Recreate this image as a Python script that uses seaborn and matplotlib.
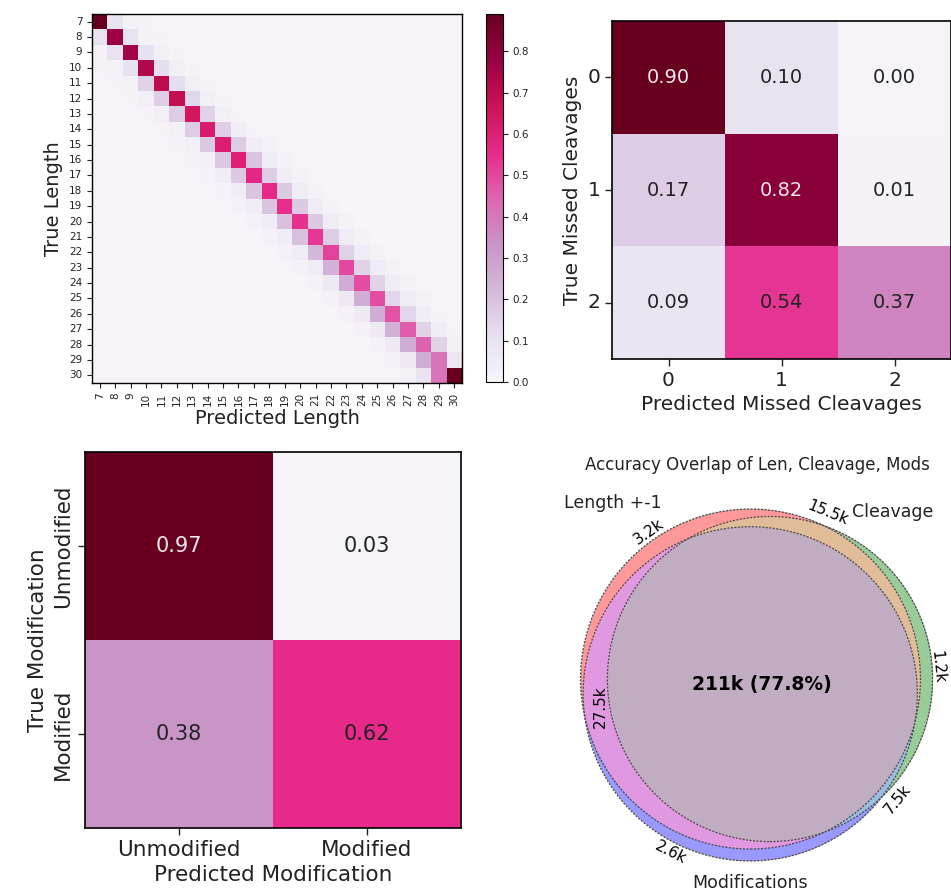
import numpy as np
import pandas as pd
import matplotlib
matplotlib.use("Agg")
import matplotlib.pyplot as plt
import seaborn as sns
from matplotlib.patches import Circle

# ---------------- peptide length confusion matrix (stored as diagonal bands) ----------------
lengths = list(range(7, 31))
len_diag = [0.89, 0.77, 0.76, 0.73, 0.70, 0.69, 0.65, 0.62, 0.61, 0.60, 0.57, 0.56,
            0.55, 0.54, 0.53, 0.51, 0.50, 0.49, 0.49, 0.48, 0.46, 0.45, 0.41, 0.89]
# true length = predicted + 1 (rows 8..30)
len_below1 = [0.10, 0.10, 0.11, 0.15, 0.16, 0.17, 0.17, 0.18, 0.18, 0.18, 0.19, 0.19,
              0.20, 0.20, 0.22, 0.24, 0.26, 0.26, 0.26, 0.25, 0.26, 0.26, 0.41]
# true length = predicted - 1 (rows 7..29)
len_above1 = [0.10, 0.10, 0.11, 0.12, 0.12, 0.14, 0.15, 0.16, 0.17, 0.19, 0.17, 0.18,
              0.18, 0.18, 0.17, 0.15, 0.15, 0.15, 0.14, 0.14, 0.15, 0.15, 0.08]
len_below2 = [0.02, 0.02, 0.02, 0.03, 0.03, 0.03, 0.03, 0.03, 0.04, 0.04, 0.04,
              0.04, 0.04, 0.05, 0.05, 0.06, 0.06, 0.06, 0.06, 0.06, 0.06, 0.10]
len_above2 = [0.02, 0.02, 0.03, 0.03, 0.03, 0.03, 0.03, 0.04, 0.04, 0.04, 0.04,
              0.05, 0.05, 0.05, 0.05, 0.05, 0.05, 0.05, 0.05, 0.04, 0.04, 0.03]
len_below3 = [0.01, 0.01, 0.01, 0.01, 0.01, 0.01, 0.01, 0.01, 0.01, 0.02, 0.02,
              0.02, 0.02, 0.02, 0.02, 0.02, 0.02, 0.02, 0.02, 0.02, 0.02]
len_above3 = [0.01, 0.01, 0.01, 0.01, 0.01, 0.01, 0.01, 0.01, 0.02, 0.02, 0.02,
              0.02, 0.02, 0.02, 0.02, 0.02, 0.02, 0.02, 0.02, 0.01, 0.01]
len_cbar_ticks = [0.0, 0.1, 0.2, 0.3, 0.4, 0.5, 0.6, 0.7, 0.8]

# ---------------- missed cleavages ----------------
clv_labels = ["0", "1", "2"]
clv_values = [[0.90, 0.10, 0.00],
              [0.17, 0.82, 0.01],
              [0.09, 0.54, 0.37]]

# ---------------- modification ----------------
mod_labels = ["Unmodified", "Modified"]
mod_values = [[0.97, 0.03],
              [0.38, 0.62]]

# ---------------- accuracy overlap (counts in thousands) ----------------
venn_names = ["Length +-1", "Cleavage", "Modifications"]
only_len, only_clv, only_mod = 3.2, 1.2, 2.6
len_clv, len_mod, clv_mod = 15.5, 27.5, 7.5
all_three = 211
all_three_pct = 77.8

# ---------------------------------------------------------------------------
W, H = 951, 894
fig = plt.figure(figsize=(W / 100, H / 100), dpi=100)


def px_box(left, top, right, bottom):
    return [left / W, 1 - bottom / H, (right - left) / W, (bottom - top) / H]


def frame(ax, lw=1.0):
    for sp in ax.spines.values():
        sp.set_visible(True)
        sp.set_linewidth(lw)
        sp.set_color("black")


cmap = "PuRd"
txt = "#222222"

# ---- top left: length heatmap ----
len_mat = (np.diag(len_diag) + np.diag(len_below1, -1) + np.diag(len_above1, 1)
           + np.diag(len_below2, -2) + np.diag(len_above2, 2)
           + np.diag(len_below3, -3) + np.diag(len_above3, 3))
len_df = pd.DataFrame(len_mat, index=lengths, columns=lengths)

ax1 = fig.add_axes(px_box(92, 14, 462, 383))
cax = fig.add_axes(px_box(486, 14, 503, 382))
sns.heatmap(len_df, ax=ax1, cmap=cmap, vmin=0, vmax=len_mat.max(), cbar_ax=cax,
            xticklabels=lengths, yticklabels=lengths,
            cbar_kws={"ticks": len_cbar_ticks})
frame(ax1, 1.0)
ax1.tick_params(labelsize=7.5, length=3.5, width=0.8, colors=txt)
ax1.tick_params(axis="x", labelrotation=90)
ax1.tick_params(axis="y", labelrotation=0)
ax1.set_xlabel("Predicted Length", fontsize=14, color=txt, labelpad=2)
ax1.set_ylabel("True Length", fontsize=14, color=txt, labelpad=4)
cb = ax1.collections[0].colorbar
cb.outline.set_linewidth(0.8)
cb.outline.set_edgecolor("black")
cax.tick_params(labelsize=7.5, length=3.5, width=0.8, colors=txt)


def annotated(ax, values, labels, fs_annot, fs_tick, fs_label, xlabel, ylabel, light_above):
    df = pd.DataFrame(values, index=labels, columns=labels)
    arr = np.array(values)
    sns.heatmap(df, ax=ax, cmap=cmap, vmin=arr.min(), vmax=arr.max(), cbar=False,
                annot=True, fmt=".2f", annot_kws={"fontsize": fs_annot})
    for t, v in zip(ax.texts, arr.ravel()):
        t.set_color("#f2e6ee" if v > light_above else txt)
    frame(ax, 1.2)
    ax.tick_params(labelsize=fs_tick, length=5, width=1.0, colors=txt)
    ax.set_xlabel(xlabel, fontsize=fs_label, color=txt)
    ax.set_ylabel(ylabel, fontsize=fs_label, color=txt)
    return ax


# ---- top right: missed cleavages ----
ax2 = fig.add_axes(px_box(612, 21, 951, 359))
annotated(ax2, clv_values, clv_labels, 14, 14.5, 14.5,
          "Predicted Missed Cleavages", "True Missed Cleavages", 0.7)
ax2.tick_params(axis="y", labelrotation=0)
ax2.tick_params(axis="x", labelrotation=0)

# ---- bottom left: modification ----
ax3 = fig.add_axes(px_box(85, 452, 461, 828))
annotated(ax3, mod_values, mod_labels, 15, 15.5, 15.5,
          "Predicted Modification", "True Modification", 0.7)
ax3.tick_params(axis="x", labelrotation=0)
for lab in ax3.get_yticklabels():
    lab.set_rotation(90)
    lab.set_va("center")

# ---- bottom right: three-set overlap ----
size_len = only_len + len_clv + len_mod + all_three
size_clv = only_clv + len_clv + clv_mod + all_three
size_mod = only_mod + len_mod + clv_mod + all_three
r_len, r_clv, r_mod = (np.sqrt(a / np.pi) for a in (size_len, size_clv, size_mod))


def lens(r1, r2, d):
    if d >= r1 + r2:
        return 0.0
    if d <= abs(r1 - r2):
        return np.pi * min(r1, r2) ** 2
    a = r1 ** 2 * np.arccos((d * d + r1 * r1 - r2 * r2) / (2 * d * r1))
    b = r2 ** 2 * np.arccos((d * d + r2 * r2 - r1 * r1) / (2 * d * r2))
    c = 0.5 * np.sqrt((-d + r1 + r2) * (d + r1 - r2) * (d - r1 + r2) * (d + r1 + r2))
    return a + b - c


def centre_distance(r1, r2, overlap):
    lo, hi = abs(r1 - r2), r1 + r2
    for _ in range(200):
        mid = 0.5 * (lo + hi)
        if lens(r1, r2, mid) > overlap:
            lo = mid
        else:
            hi = mid
    return 0.5 * (lo + hi)


d_lc = centre_distance(r_len, r_clv, len_clv + all_three)
d_lm = centre_distance(r_len, r_mod, len_mod + all_three)
d_cm = centre_distance(r_clv, r_mod, clv_mod + all_three)
c_len = np.array([0.0, 0.0])
c_clv = np.array([d_lc, 0.0])
mx = (d_lm ** 2 - d_cm ** 2 + d_lc ** 2) / (2 * d_lc)
c_mod = np.array([mx, -np.sqrt(max(d_lm ** 2 - mx ** 2, 0.0))])
centres = [c_len, c_clv, c_mod]
radii = [r_len, r_clv, r_mod]

xmin = min(c[0] - r for c, r in zip(centres, radii))
xmax = max(c[0] + r for c, r in zip(centres, radii))
ymin = min(c[1] - r for c, r in zip(centres, radii))
ymax = max(c[1] + r for c, r in zip(centres, radii))
cx0, cy0 = 0.5 * (xmin + xmax), 0.5 * (ymin + ymax)
s = r_len / 170.0          # data units per pixel
half = 195 * s

ax4 = fig.add_axes(px_box(561.5, 490, 951.5, 880))
ax4.set_xlim(cx0 - half, cx0 + half)
ax4.set_ylim(cy0 - half, cy0 + half)
ax4.set_aspect("equal")
ax4.axis("off")

N = 1200
gx = np.linspace(cx0 - half, cx0 + half, N)
gy = np.linspace(cy0 - half, cy0 + half, N)
X, Y = np.meshgrid(gx, gy)
inside = [(X - c[0]) ** 2 + (Y - c[1]) ** 2 <= r ** 2 for c, r in zip(centres, radii)]
base = [np.array([1.0, 0.0, 0.0]), np.array([0.0, 0.5, 0.0]), np.array([0.0, 0.0, 1.0])]
img = np.zeros((N, N, 4))
combos = [(0,), (1,), (2,), (0, 1), (0, 2), (1, 2), (0, 1, 2)]
for combo in combos:
    mask = np.ones_like(X, dtype=bool)
    for i in range(3):
        mask &= inside[i] if i in combo else ~inside[i]
    if len(combo) == 1:
        col = base[combo[0]]
    elif len(combo) == 2:
        col = np.minimum(0.7 * (base[combo[0]] + base[combo[1]]), 1.0)
    else:
        col = np.minimum(0.4 * sum(base), 1.0)
    col = 1 - 0.4 + 0.4 * col
    img[mask, :3] = col
    img[mask, 3] = 1.0
ax4.imshow(img, origin="lower", extent=(gx[0], gx[-1], gy[0], gy[-1]),
           interpolation="antialiased", zorder=1)
for c, r in zip(centres, radii):
    ax4.add_patch(Circle(c, r, fill=False, ls=(0, (1.6, 1.2)), lw=0.9,
                         ec="#4a4a4a", zorder=2))

triple = inside[0] & inside[1] & inside[2]
tx, ty = X[triple].mean(), Y[triple].mean()
ax4.text(tx, ty, f"{all_three}k ({all_three_pct}%)", fontsize=13.5, fontweight="bold",
         ha="center", va="center", color="black", zorder=3)


def polar(angle_deg, r_px):
    a = np.deg2rad(angle_deg)
    return cx0 + r_px * s * np.cos(a), cy0 + r_px * s * np.sin(a)


region_labels = [
    (only_len, 125, 187, 35),
    (len_clv, 67.6, 186, -22),
    (only_clv, 5.7, 182, -84),
    (clv_mod, -39, 182, 51),
    (only_mod, -117, 188, -27),
    (len_mod, -172, 158, 90),
]
for val, ang, rp, rot in region_labels:
    x, y = polar(ang, rp)
    ax4.text(x, y, f"{val:g}k", fontsize=11, rotation=rot, ha="center", va="center",
             rotation_mode="anchor", color="black", zorder=3)

set_label_pos = [(128.3, 232), (51.7, 220), (-91.9, 198)]
for name, (ang, rp) in zip(venn_names, set_label_pos):
    x, y = polar(ang, rp)
    ax4.text(x, y, name, fontsize=12.5, ha="center", va="center", color=txt, zorder=3)

fig.text(757 / W, 1 - 465 / H, "Accuracy Overlap of Len, Cleavage, Mods",
         fontsize=12, ha="center", va="center", color=txt)

fig.savefig("out.png", dpi=100)
